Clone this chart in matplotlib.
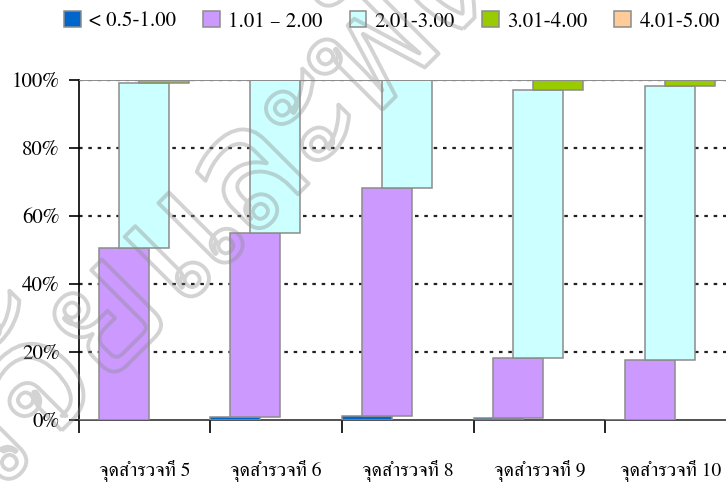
import matplotlib
matplotlib.use("Agg")
import matplotlib.pyplot as plt
import matplotlib.patheffects as pe
from matplotlib.patches import Patch
from matplotlib.ticker import FixedLocator, NullFormatter

plt.rcParams['font.family'] = ['FreeSerif', 'DejaVu Serif']

# survey points and score bands (percent of responses)
points = ['จุดสำรวจที่ 5', 'จุดสำรวจที่ 6', 'จุดสำรวจที่ 8', 'จุดสำรวจที่ 9', 'จุดสำรวจที่ 10']
bands = ['< 0.5-1.00', '1.01 – 2.00', '2.01-3.00', '3.01-4.00', '4.01-5.00']
band_05_100 = [0.0, 0.8, 1.3, 0.5, 0.0]
band_101_200 = [50.6, 54.2, 66.9, 17.7, 17.6]
band_201_300 = [48.6, 45.0, 31.8, 78.8, 80.7]
band_301_400 = [0.8, 0.0, 0.0, 3.0, 1.7]
band_401_500 = [0.0, 0.0, 0.0, 0.0, 0.0]
colors = ['#0066CC', '#CC99FF', '#CCFFFF', '#99CC00', '#FFCC99']

series = [band_05_100, band_101_200, band_201_300, band_301_400, band_401_500]
edge = '#8c8c8c'

fig = plt.figure(figsize=(7.26, 4.92), dpi=100)
ax = fig.add_axes([0.1088, 0.1463, 0.8912, 0.6911])

# each band is stepped a little to the right inside its category
step = 0.152
width = 0.38
bottom = [0.0] * len(points)
for k, vals in enumerate(series):
    xs = [i + k * step for i in range(len(points))]
    ax.bar(xs, vals, width=width, bottom=bottom, align='edge',
           color=colors[k], edgecolor=edge, linewidth=1.1, zorder=3 + k)
    bottom = [b + v for b, v in zip(bottom, vals)]

ax.set_xlim(0, 4.92)
ax.set_ylim(0, 100)

for y in [20, 40, 60, 80, 100]:
    ax.axhline(y, color='#222222', linewidth=1.6, linestyle=(0, (1.6, 2.6)), zorder=1)
ax.axhline(100, color=edge, linewidth=1.4, zorder=9)

ax.spines['top'].set_visible(False)
ax.spines['right'].set_visible(False)
ax.spines['left'].set_linewidth(1.2)
ax.spines['bottom'].set_linewidth(1.2)
ax.spines['bottom'].set_color('#333333')

ax.set_yticks([0, 20, 40, 60, 80, 100])
ax.set_yticklabels(['0%', '20%', '40%', '60%', '80%', '100%'], fontsize=15)
ax.tick_params(axis='y', direction='out', length=7, width=1.2, pad=7)

ax.xaxis.set_major_locator(FixedLocator(range(len(points))))
ax.xaxis.set_major_formatter(NullFormatter())
ax.xaxis.set_minor_locator(FixedLocator([i + 0.5 for i in range(len(points))]))
ax.set_xticklabels(points, minor=True, fontsize=14)
ax.tick_params(axis='x', which='major', direction='out', length=9, width=1.2)
ax.tick_params(axis='x', which='minor', length=0, pad=29)

handles = [Patch(facecolor=c, edgecolor=edge, linewidth=1.1) for c in colors]
fig.legend(handles, bands, loc='upper center', bbox_to_anchor=(0.54, 1.015),
           ncol=5, frameon=False, fontsize=15, handlelength=0.8, handleheight=0.8,
           handletextpad=0.4, columnspacing=1.3)

# faint outlined watermark running up across the plot
fig.text(-0.02, -0.03, 'วิจัยและพัฒนา', rotation=45, rotation_mode='anchor',
         ha='left', va='baseline', fontsize=120, fontweight='black',
         family=['Noto Sans Thai Looped', 'DejaVu Sans'], color=(1, 1, 1, 0), zorder=20,
         path_effects=[pe.Stroke(linewidth=2.8, foreground=(0.55, 0.55, 0.55, 0.38))])

fig.savefig('out.png', dpi=100)
